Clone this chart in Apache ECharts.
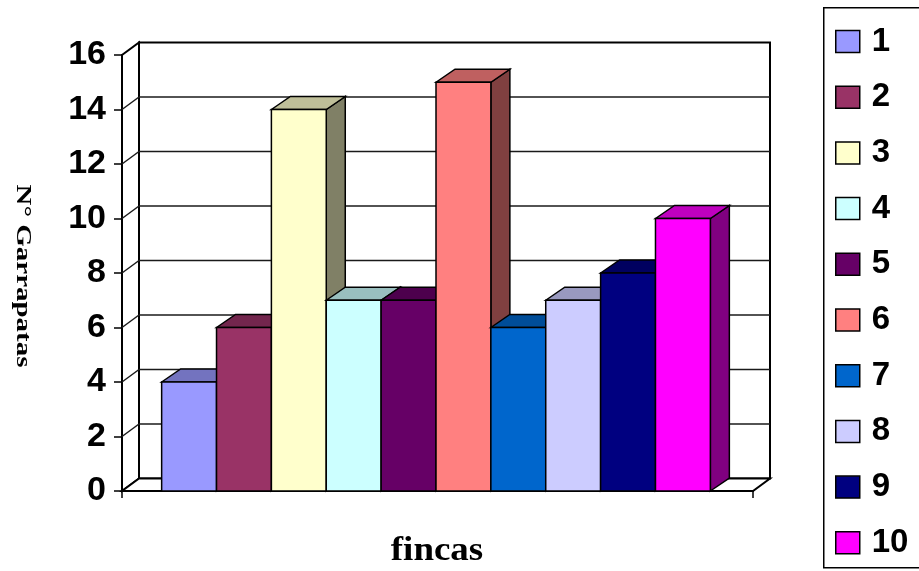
<!DOCTYPE html>
<html>
<head>
<meta charset="utf-8">
<script src="https://cdn.jsdelivr.net/npm/echarts@6/dist/echarts.min.js"></script>
<style>
  html, body { margin: 0; padding: 0; background: #fff; }
  #chart { width: 919px; height: 571px; }
</style>
</head>
<body>
<div id="chart"></div>
<script>
// Fincas (series 1..10) and tick counts per finca
const fincas = ['1', '2', '3', '4', '5', '6', '7', '8', '9', '10'];
const garrapatas = [4, 6, 14, 7, 7, 15, 6, 7, 8, 10];
const fincaColors = ['#9999FF', '#993366', '#FFFFCC', '#CCFFFF', '#660066',
                     '#FF8080', '#0066CC', '#CCCCFF', '#000080', '#FF00FF'];
const yTicks = [0, 2, 4, 6, 8, 10, 12, 14, 16];

// depth offsets (px) for the 3D look
const WALL_DEPTH = [17, -12.5];
const BAR_DEPTH = [19, -13];

function shade(hex, f) {
  const n = parseInt(hex.slice(1), 16);
  const r = Math.round(((n >> 16) & 255) * f);
  const g = Math.round(((n >> 8) & 255) * f);
  const b = Math.round((n & 255) * f);
  return 'rgb(' + r + ',' + g + ',' + b + ')';
}

const edge = { stroke: '#000', lineWidth: 1.5, lineJoin: 'miter' };

// back wall, side wall, floor and their gridlines
function renderFrame(params, api) {
  const b0 = api.coord([0, 0]);
  const band = api.size([1, 0])[0];
  const xl = b0[0] - band / 2, xr = xl + band;
  const y0 = b0[1];
  const yTop = api.coord([0, yTicks[yTicks.length - 1]])[1];
  const dx = WALL_DEPTH[0], dy = WALL_DEPTH[1];
  const children = [
    { type: 'rect', shape: { x: xl + dx, y: yTop + dy, width: band, height: y0 - yTop },
      style: Object.assign({ fill: '#fff' }, edge, { lineWidth: 2 }) },
    { type: 'polygon', shape: { points: [[xl, y0], [xl + dx, y0 + dy], [xl + dx, yTop + dy], [xl, yTop]] },
      style: Object.assign({ fill: '#fff' }, edge, { lineWidth: 2 }) },
    { type: 'polygon', shape: { points: [[xl, y0], [xr, y0], [xr + dx, y0 + dy], [xl + dx, y0 + dy]] },
      style: Object.assign({ fill: '#fff' }, edge, { lineWidth: 2 }) }
  ];
  yTicks.forEach(function (t) {
    if (t === yTicks[0] || t === yTicks[yTicks.length - 1]) return;
    const y = api.coord([0, t])[1];
    children.push({ type: 'line', shape: { x1: xl + dx, y1: y + dy, x2: xr + dx, y2: y + dy },
      style: { stroke: '#1a1a1a', lineWidth: 1.5 } });
    children.push({ type: 'line', shape: { x1: xl, y1: y, x2: xl + dx, y2: y + dy },
      style: { stroke: '#1a1a1a', lineWidth: 1.5 } });
  });
  return { type: 'group', children: children };
}

// one 3D column per finca, placed side by side inside the single category band
function makeBarRender(i) {
  return function (params, api) {
    const v = api.value(1);
    const base = api.coord([0, 0]);
    const top = api.coord([0, v]);
    const band = api.size([1, 0])[0];
    const n = fincas.length;
    const w = band / (n + 1.5);
    const left = base[0] - band / 2 + (band - w * n) / 2 + i * w - 1.5;
    const right = left + w;
    const yb = base[1], yt = top[1];
    const dx = BAR_DEPTH[0], dy = BAR_DEPTH[1];
    const c = fincaColors[i];
    return {
      type: 'group',
      children: [
        { type: 'polygon', shape: { points: [[right, yb], [right + dx, yb + dy], [right + dx, yt + dy], [right, yt]] },
          style: Object.assign({ fill: shade(c, 0.5) }, edge) },
        { type: 'polygon', shape: { points: [[left, yt], [left + dx, yt + dy], [right + dx, yt + dy], [right, yt]] },
          style: Object.assign({ fill: shade(c, 0.75) }, edge) },
        { type: 'rect', shape: { x: left, y: yt, width: w, height: yb - yt },
          style: Object.assign({ fill: c }, edge) }
      ]
    };
  };
}

const series = [{
  type: 'custom',
  name: 'frame',
  z: 1,
  silent: true,
  renderItem: renderFrame,
  data: [[0, 0]]
}];
fincas.forEach(function (name, i) {
  series.push({
    type: 'custom',
    name: name,
    z: 2,
    itemStyle: { color: fincaColors[i], borderColor: '#000', borderWidth: 1 },
    renderItem: makeBarRender(i),
    data: [[0, garrapatas[i]]]
  });
});

const chart = echarts.init(document.getElementById('chart'), null, { renderer: 'canvas' });
chart.setOption({
  backgroundColor: '#fff',
  animation: false,
  grid: { left: 122, right: 166, top: 55, bottom: 80 },
  xAxis: {
    type: 'category',
    data: [''],
    boundaryGap: true,
    axisLine: { lineStyle: { color: '#000', width: 2 } },
    axisTick: { show: true, length: 7, lineStyle: { color: '#000', width: 1.5 } },
    axisLabel: { show: false },
    splitLine: { show: false }
  },
  yAxis: {
    type: 'value',
    min: yTicks[0],
    max: yTicks[yTicks.length - 1],
    interval: yTicks[1] - yTicks[0],
    axisLine: { show: true, lineStyle: { color: '#000', width: 2 } },
    axisTick: { show: true, length: 8, lineStyle: { color: '#000', width: 1.5 } },
    axisLabel: {
      margin: 16,
      color: '#000',
      fontFamily: '"Liberation Sans", Arial, sans-serif',
      fontWeight: 'bold',
      fontSize: 34
    },
    splitLine: { show: false }
  },
  legend: {
    orient: 'vertical',
    left: 835,
    top: 25,
    padding: 0,
    itemWidth: 24,
    itemHeight: 22,
    itemGap: 22.7,
    icon: 'rect',
    selectedMode: false,
    textStyle: {
      color: '#000',
      fontFamily: '"Liberation Sans", Arial, sans-serif',
      fontWeight: 'bold',
      fontSize: 33,
      padding: [0, 0, 0, 7]
    },
    data: fincas.map(function (n, i) {
      return { name: n, itemStyle: { color: fincaColors[i], borderColor: '#000', borderWidth: 1.5 } };
    })
  },
  graphic: [
    { type: 'rect', left: 823, top: 7, z: -1, silent: true,
      shape: { width: 130, height: 560 },
      style: { fill: '#fff', stroke: '#000', lineWidth: 1.5 } },
    { type: 'text', x: 22, y: 276, rotation: -Math.PI / 2, scaleX: 1.38,
      style: { text: 'N° Garrapatas', fill: '#000', font: 'bold 21px "Liberation Serif", "Times New Roman", serif',
               align: 'center', verticalAlign: 'middle' } },
    { type: 'text', x: 437, y: 551, scaleX: 1.12,
      style: { text: 'fincas', fill: '#000', font: 'bold 33px "Liberation Serif", "Times New Roman", serif',
               align: 'center', verticalAlign: 'middle' } }
  ],
  series: series
});
</script>
</body>
</html>
